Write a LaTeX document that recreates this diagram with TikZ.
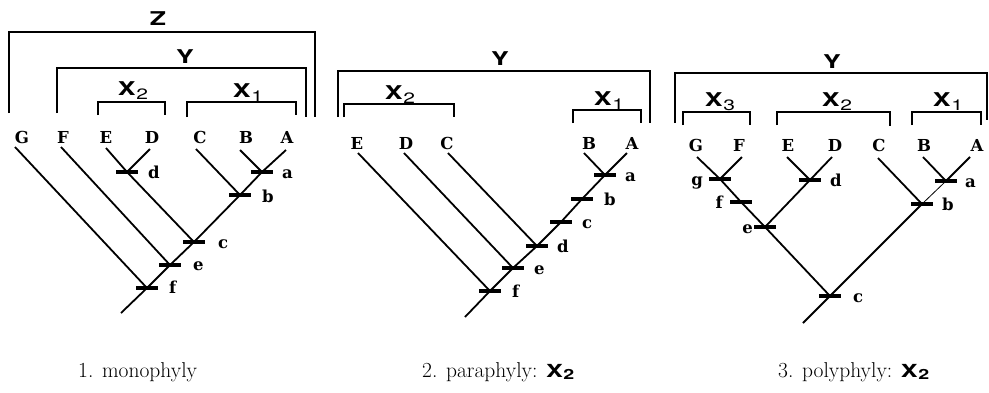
\documentclass[tikz,border=0pt]{standalone}
\usepackage{fontspec}
\newfontfamily\lblfont[FakeStretch=1.4]{TeX Gyre Heros}
\newfontfamily\leaffont{DejaVu Serif}
\newcommand\grplbl[2]{{\lblfont\bfseries\fontsize{19}{21}\selectfont #1}\kern0.8pt\raisebox{-4pt}{\lblfont\fontsize{15}{16}\selectfont #2}}
\newcommand\caplbl{{\lblfont\bfseries\fontsize{18}{20}\selectfont X}\kern0.5pt\raisebox{-2.5pt}{\lblfont\bfseries\fontsize{14}{15}\selectfont 2}}
\tikzset{
  branch/.style={line width=1.8pt},
  thinbranch/.style={line width=0.8pt},
  brk/.style={line width=1.3pt},
  tickbar/.style={line width=4pt},
  leaf/.style={font=\leaffont\bfseries\fontsize{16.5}{18}\selectfont, anchor=base, inner sep=0pt},
  rlab/.style={font=\leaffont\bfseries\fontsize{16.5}{18}\selectfont, anchor=base west, inner sep=0pt},
  llab/.style={font=\leaffont\bfseries\fontsize{16.5}{18}\selectfont, anchor=base east, inner sep=0pt},
  grp/.style={anchor=base, inner sep=0pt},
  captxt/.style={font=\fontsize{21.5}{24}\selectfont, anchor=base west, inner sep=0pt},
}
\newcommand\tbar[1]{\draw[tickbar] ([xshift=-11pt]#1) -- ([xshift=11pt]#1);}
\begin{document}
\begin{tikzpicture}[x=1pt,y=-1pt]
\useasboundingbox (0,0) rectangle (989,392);

% ================= Panel 1 =================
\draw[brk] (9,113) -- (9,32) -- (315,32) -- (315,117);
\draw[brk] (57,113) -- (57,68) -- (306,68) -- (306,117);
\draw[brk] (98,115) -- (98,102) -- (165,102) -- (165,115);
\draw[brk] (187,117) -- (187,102) -- (296,102) -- (296,115);
\node[grp] (pZ) at (158,25) {\lblfont\bfseries\fontsize{19}{21}\selectfont Z};
\node[grp] (pY) at (185,63) {\lblfont\bfseries\fontsize{19}{21}\selectfont Y};
\node[grp] (pX2) at (133,95) {\grplbl{X}{2}};
\node[grp] (pX1) at (248,97) {\grplbl{X}{1}};

\node[leaf] (pG) at (22,143) {G};
\node[leaf] (pF) at (63,143) {F};
\node[leaf] (pE) at (106,143) {E};
\node[leaf] (pD) at (152,143) {D};
\node[leaf] (pC) at (200,143) {C};
\node[leaf] (pB) at (246,143) {B};
\node[leaf] (pA) at (287,143) {A};

\coordinate (ptG) at (15,147);
\coordinate (ptF) at (61,147);
\coordinate (ptE) at (106,148);
\coordinate (ptD) at (150,149);
\coordinate (ptC) at (196,149);
\coordinate (ptB) at (240,150);
\coordinate (ptA) at (286,150);
\coordinate (pa) at (262,172);
\coordinate (pb) at (240,195);
\coordinate (pc) at (194,242);
\coordinate (pd) at (127,172);
\coordinate (pe) at (170,265);
\coordinate (pf) at (147,288);
\coordinate (pr) at (121,313);

\draw[branch] (ptA) -- (pa) -- (pb) -- (pc) -- (pe) -- (pf) -- (pr);
\draw[branch] (ptB) -- (pa);
\draw[branch] (ptC) -- (pb);
\draw[branch] (ptD) -- (pd);
\draw[branch] (ptE) -- (pd) -- (pc);
\draw[branch] (ptF) -- (pe);
\draw[branch] (ptG) -- (pf);
\tbar{pa}\tbar{pb}\tbar{pc}\tbar{pd}\tbar{pe}\tbar{pf}
\node[rlab] (pla) at (282,178) {a};
\node[rlab] (plb) at (262,202) {b};
\node[rlab] (plc) at (218,248) {c};
\node[rlab] (pld) at (148,178) {d};
\node[rlab] (ple) at (193,270) {e};
\node[rlab] (plf) at (169,293) {f};

% ================= Panel 2 =================
\draw[brk] (338,117) -- (338,71) -- (650,71) -- (650,123);
\draw[brk] (344,117) -- (344,104) -- (454,104) -- (454,117);
\draw[brk] (573,123) -- (573,110) -- (641,110) -- (641,123);
\node[grp] (qY) at (500,65) {\lblfont\bfseries\fontsize{19}{21}\selectfont Y};
\node[grp] (qX2) at (400,99) {\grplbl{X}{2}};
\node[grp] (qX1) at (609,105) {\grplbl{X}{1}};

\node[leaf] (qE) at (357,149) {E};
\node[leaf] (qD) at (406,149) {D};
\node[leaf] (qC) at (447,149) {C};
\node[leaf] (qB) at (589,149) {B};
\node[leaf] (qA) at (632,149) {A};

\coordinate (qtE) at (358,153);
\coordinate (qtD) at (404,153);
\coordinate (qtC) at (448,153);
\coordinate (qtB) at (584,153);
\coordinate (qtA) at (627,153);
\coordinate (qa) at (605,175);
\coordinate (qb) at (582,199);
\coordinate (qc) at (561,222);
\coordinate (qd) at (537,246);
\coordinate (qe) at (513,268);
\coordinate (qf) at (490,291);
\coordinate (qr) at (465,317);

\draw[branch] (qtA) -- (qa) -- (qb) -- (qc) -- (qd) -- (qe) -- (qf) -- (qr);
\draw[branch] (qtB) -- (qa);
\draw[branch] (qtC) -- (qd);
\draw[branch] (qtD) -- (qe);
\draw[branch] (qtE) -- (qf);
\tbar{qa}\tbar{qb}\tbar{qc}\tbar{qd}\tbar{qe}\tbar{qf}
\node[rlab] (qla) at (625,181) {a};
\node[rlab] (qlb) at (604,205) {b};
\node[rlab] (qlc) at (582,228) {c};
\node[rlab] (qld) at (557,252) {d};
\node[rlab] (qle) at (534,274) {e};
\node[rlab] (qlf) at (512,297) {f};

% ================= Panel 3 =================
\draw[brk] (675,123) -- (675,73) -- (987,73) -- (987,120);
\draw[brk] (683,125) -- (683,112) -- (750,112) -- (750,125);
\draw[brk] (777,125) -- (777,112) -- (890,112) -- (890,126);
\draw[brk] (912,125) -- (912,112) -- (981,112) -- (981,125);
\node[grp] (sY) at (832,68) {\lblfont\bfseries\fontsize{19}{21}\selectfont Y};
\node[grp] (sX3) at (720,106) {\grplbl{X}{3}};
\node[grp] (sX2) at (837,106) {\grplbl{X}{2}};
\node[grp] (sX1) at (948,106) {\grplbl{X}{1}};

\node[leaf] (sG) at (696,151) {G};
\node[leaf] (sF) at (739,151) {F};
\node[leaf] (sE) at (788,151) {E};
\node[leaf] (sD) at (835,151) {D};
\node[leaf] (sC) at (879,151) {C};
\node[leaf] (sB) at (924,151) {B};
\node[leaf] (sA) at (977,151) {A};

\coordinate (stG) at (697,157);
\coordinate (stF) at (742,157);
\coordinate (stE) at (787,157);
\coordinate (stD) at (832,157);
\coordinate (stC) at (878,158);
\coordinate (stB) at (923,157);
\coordinate (stA) at (970,157);
\coordinate (sg) at (720,179);
\coordinate (sf) at (741,202);
\coordinate (se) at (765,227);
\coordinate (sd) at (810,180);
\coordinate (sa) at (946,181);
\coordinate (sb) at (922,204);
\coordinate (sc) at (830,296);
\coordinate (sr) at (803,323);

\draw[branch] (stG) -- (sg) -- (sf) -- (se) -- (sc) -- (sr);
\draw[branch] (stF) -- (sg);
\draw[branch] (stE) -- (sd);
\draw[branch] (stD) -- (sd) -- (se);
\draw[branch] (stC) -- (sb) -- (sc);
\draw[branch] (stB) -- (sa);
\draw[branch] (stA) -- (sa);
\draw[thinbranch] (sa) -- (sb);
\tbar{sg}\tbar{sf}\tbar{se}\tbar{sd}\tbar{sa}\tbar{sb}\tbar{sc}
\node[llab] (slg) at (703,185) {g};
\node[llab] (slf) at (723,208) {f};
\node[llab] (sle) at (753,233) {e};
\node[rlab] (sld) at (830,186) {d};
\node[rlab] (sla) at (965,187) {a};
\node[rlab] (slb) at (942,210) {b};
\node[rlab] (slc) at (853,302) {c};

% ================= Captions =================
\node[captxt] (cap1) at (78,377) {1. monophyly};
\node[captxt] (cap2) at (422,377) {2. paraphyly: \caplbl};
\node[captxt] (cap3) at (778,377) {3. polyphyly: \caplbl};
\end{tikzpicture}
\end{document}
